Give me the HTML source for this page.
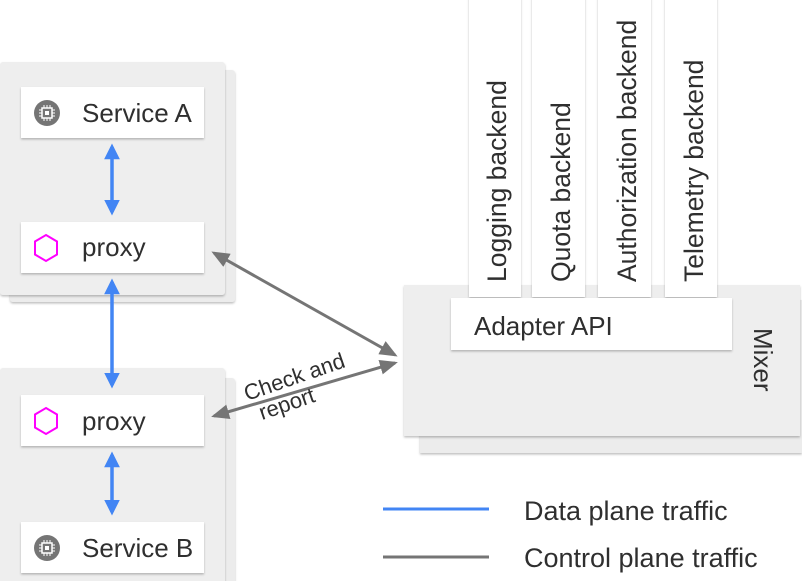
<!DOCTYPE html>
<html><head><meta charset="utf-8"><style>
html,body{margin:0;padding:0;background:#fff;width:802px;height:581px;overflow:hidden}
text{font-family:"Liberation Sans",Arial,sans-serif;fill:#2f2f2f}
</style></head><body>
<svg width="802" height="581" viewBox="0 0 802 581" xmlns="http://www.w3.org/2000/svg">
<defs>
<filter id="sh" x="-10%" y="-10%" width="130%" height="130%"><feDropShadow dx="0" dy="1.5" stdDeviation="1" flood-color="#000" flood-opacity="0.25"/></filter>
<marker id="bl" markerWidth="4.5" markerHeight="4.5" refX="3.5" refY="2.25" orient="auto-start-reverse" markerUnits="strokeWidth"><path d="M0,0 L4.5,2.25 L0,4.5 Z" fill="#4285f4"/></marker>
<marker id="gr" markerWidth="6" markerHeight="5" refX="5" refY="2.5" orient="auto-start-reverse" markerUnits="strokeWidth"><path d="M0,0 L6,2.5 L0,5 Z" fill="#757575"/></marker>
<g id="chip"><circle r="13" fill="#757575"/><rect x="-5" y="-5" width="10" height="10" fill="none" stroke="#fff" stroke-width="1.5"/><rect x="-2" y="-2" width="4" height="4" fill="#fff"/><path d="M-8,-3h3M-8,0h3M-8,3h3M5,-3h3M5,0h3M5,3h3M-3,-8v3M0,-8v3M3,-8v3M-3,5v3M0,5v3M3,5v3" stroke="#fff" stroke-width="1"/></g>
<polygon id="hex" points="0,-13 11,-6.5 11,6.5 0,13 -11,6.5 -11,-6.5" fill="none" stroke="#f0f" stroke-width="2"/>
</defs>
<rect x="10" y="70" width="225" height="232" rx="3" fill="#ececec" filter="url(#sh)"/>
<rect x="0" y="62" width="225" height="233" rx="3" fill="#eeeeee" filter="url(#sh)"/>
<rect x="10" y="378" width="225" height="215" rx="3" fill="#ececec" filter="url(#sh)"/>
<rect x="0" y="368" width="225" height="225" rx="3" fill="#eeeeee" filter="url(#sh)"/>
<rect x="21" y="87" width="183" height="51" fill="#fff" filter="url(#sh)"/>
<use href="#chip" x="47" y="113"/><text x="82" y="122" font-size="26">Service A</text>
<rect x="21" y="222" width="183" height="51" fill="#fff" filter="url(#sh)"/>
<use href="#hex" x="46" y="248"/><text x="82" y="256" font-size="26">proxy</text>
<rect x="21" y="395" width="183" height="51" fill="#fff" filter="url(#sh)"/>
<use href="#hex" x="46" y="421"/><text x="82" y="430" font-size="26">proxy</text>
<rect x="21" y="522" width="183" height="51" fill="#fff" filter="url(#sh)"/>
<use href="#chip" x="47" y="548"/><text x="82" y="557" font-size="26">Service B</text>
<g stroke="#4285f4" stroke-width="3.5" fill="none">
<line x1="112" y1="147" x2="112" y2="212" marker-start="url(#bl)" marker-end="url(#bl)"/>
<line x1="112" y1="282" x2="112" y2="385" marker-start="url(#bl)" marker-end="url(#bl)"/>
<line x1="112" y1="455" x2="112" y2="512" marker-start="url(#bl)" marker-end="url(#bl)"/>
</g>
<rect x="420" y="300" width="382" height="153" fill="#ececec" filter="url(#sh)"/>
<rect x="404" y="285" width="396" height="151" fill="#eeeeee" filter="url(#sh)"/>
<g filter="url(#sh)" fill="#fff">
<rect x="469" y="-5" width="52" height="302"/>
<rect x="532" y="-5" width="53" height="302"/>
<rect x="598" y="-5" width="53" height="302"/>
<rect x="665" y="-5" width="52" height="302"/>
</g>
<g font-size="26.5">
<text transform="translate(506,282) rotate(-90)">Logging backend</text>
<text transform="translate(570,282) rotate(-90)">Quota backend</text>
<text transform="translate(636,282) rotate(-90)">Authorization backend</text>
<text transform="translate(703,282) rotate(-90)">Telemetry backend</text>
</g>
<rect x="451" y="298" width="281" height="52" fill="#fff" filter="url(#sh)"/>
<text x="474" y="335" font-size="26">Adapter API</text>
<text transform="translate(754,328) rotate(90)" font-size="26">Mixer</text>
<g stroke="#757575" stroke-width="3" fill="none">
<line x1="214" y1="253" x2="395" y2="355" marker-start="url(#gr)" marker-end="url(#gr)"/>
<line x1="214" y1="416" x2="395" y2="363" marker-start="url(#gr)" marker-end="url(#gr)"/>
</g>
<g font-size="22" transform="translate(247,401) rotate(-19)"><text x="0" y="0">Check and</text><text x="8" y="23">report</text></g>
<line x1="383" y1="509" x2="489" y2="509" stroke="#4285f4" stroke-width="3"/>
<line x1="383" y1="557" x2="489" y2="557" stroke="#757575" stroke-width="3"/>
<text x="524" y="520" font-size="27">Data plane traffic</text>
<text x="524" y="567" font-size="27">Control plane traffic</text>
</svg>
</body></html>
